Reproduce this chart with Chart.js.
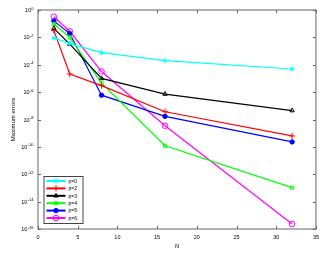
<!DOCTYPE html>
<html>
<head>
<meta charset="utf-8">
<script src="https://cdn.jsdelivr.net/npm/chart.js"></script>
<style>
  html, body { margin: 0; padding: 0; background: #fff; }
  #wrap { width: 324px; height: 255px; }
</style>
</head>
<body>
<div id="wrap"><canvas id="errChart" width="324" height="255"></canvas></div>
<script>
// grid sizes
const N = [2, 4, 8, 16, 32];

// maximum errors per polynomial degree p
const errP0 = [9.1e-3, 3.5e-3, 7.6e-4, 2.0e-4, 4.9e-5];
const errP2 = [3.1e-2, 2.1e-5, 3.0e-6, 3.7e-8, 6.3e-10];
const errP3 = [4.6e-2, 3.2e-3, 1.0e-5, 7.2e-7, 4.5e-8];
const errP4 = [9.5e-2, 1.0e-2, 4.5e-6, 1.2e-10, 1.05e-13];
const errP5 = [1.6e-1, 1.9e-2, 6.0e-7, 1.7e-8, 2.3e-10];
const errP6 = [3.2e-1, 2.8e-2, 3.2e-5, 3.5e-9, 2.3e-16];

const seriesNames = ['p=0', 'p=2', 'p=3', 'p=4', 'p=5', 'p=6'];
const xTicks = [0, 5, 10, 15, 20, 25, 30, 35];
const yTickExps = [0, -2, -4, -6, -8, -10, -12, -14, -16];

const styles = [
  { color: '#00ffff', point: 'star', radius: 2.5, fill: false },
  { color: '#ff0000', point: 'cross', radius: 3, fill: false },
  { color: '#000000', point: 'triangle', radius: 2.5, fill: false },
  { color: '#00ff00', point: 'rect', radius: 2.2, fill: false },
  { color: '#0000ff', point: 'circle', radius: 2.2, fill: true },
  { color: '#ff00ff', point: 'circle', radius: 2.8, fill: false }
];

const allErr = [errP0, errP2, errP3, errP4, errP5, errP6];

const datasets = allErr.map((vals, i) => ({
  label: seriesNames[i],
  data: N.map((n, j) => ({ x: n, y: vals[j] })),
  borderColor: styles[i].color,
  backgroundColor: styles[i].fill ? styles[i].color : 'rgba(0,0,0,0)',
  borderWidth: 1.2,
  pointStyle: styles[i].point,
  pointRadius: styles[i].radius,
  pointBorderWidth: 1,
  pointBorderColor: styles[i].color,
  pointBackgroundColor: styles[i].fill ? styles[i].color : 'rgba(0,0,0,0)',
  tension: 0
}));

const FONT = '"Liberation Sans", Arial, sans-serif';

// box round the axes with inward ticks, matlab style, plus 10^n labels
const boxPlugin = {
  id: 'boxTicks',
  afterDraw(chart) {
    const { ctx, chartArea: a, scales } = chart;
    ctx.save();
    ctx.strokeStyle = '#666';
    ctx.lineWidth = 1;
    ctx.strokeRect(a.left, a.top, a.right - a.left, a.bottom - a.top);
    ctx.beginPath();
    xTicks.forEach(v => {
      const px = Math.round(scales.x.getPixelForValue(v)) + 0.5;
      ctx.moveTo(px, a.bottom); ctx.lineTo(px, a.bottom - 3);
      ctx.moveTo(px, a.top); ctx.lineTo(px, a.top + 3);
    });
    yTickExps.forEach(e => {
      const py = Math.round(scales.y.getPixelForValue(Math.pow(10, e))) + 0.5;
      ctx.moveTo(a.left, py); ctx.lineTo(a.left + 3, py);
      ctx.moveTo(a.right, py); ctx.lineTo(a.right - 3, py);
    });
    ctx.stroke();

    // y tick labels with a raised exponent
    ctx.fillStyle = '#000';
    ctx.textBaseline = 'alphabetic';
    yTickExps.forEach(e => {
      const py = scales.y.getPixelForValue(Math.pow(10, e));
      const right = a.left - 4.5;
      ctx.font = '4px ' + FONT;
      const expTxt = e === 0 ? '0' : '-' + Math.abs(e);
      const ew = ctx.measureText(expTxt).width;
      ctx.textAlign = 'right';
      ctx.fillText(expTxt, right, py - 0.5);
      ctx.font = '5.5px ' + FONT;
      ctx.fillText('10', right - ew - 0.3, py + 2);
    });
    ctx.restore();
  }
};

// legend drawn inside the lower left corner
const innerLegend = {
  id: 'innerLegend',
  afterDraw(chart) {
    const { ctx, chartArea: a } = chart;
    const x0 = a.left + 5.5, y0 = a.bottom - 53;
    const w = 39, h = 47, row = 7.4;
    ctx.save();
    ctx.fillStyle = '#fff';
    ctx.fillRect(x0, y0, w, h);
    ctx.strokeStyle = '#444';
    ctx.lineWidth = 1;
    ctx.strokeRect(x0 + 0.5, y0 + 0.5, w, h);
    chart.data.datasets.forEach((ds, i) => {
      const y = y0 + 5 + i * row;
      ctx.strokeStyle = ds.borderColor;
      ctx.lineWidth = 2;
      ctx.beginPath();
      ctx.moveTo(x0 + 3, y); ctx.lineTo(x0 + 22, y);
      ctx.stroke();
      ctx.fillStyle = ds.pointBackgroundColor;
      ctx.lineWidth = 1;
      Chart.helpers.drawPoint(ctx, { pointStyle: ds.pointStyle, radius: ds.pointRadius, borderWidth: 1, rotation: 0 }, x0 + 12.5, y);
      ctx.fillStyle = '#000';
      ctx.font = '5px ' + FONT;
      ctx.textBaseline = 'middle';
      ctx.fillText(ds.label, x0 + 25, y + 0.5);
    });
    ctx.restore();
  }
};

new Chart(document.getElementById('errChart').getContext('2d'), {
  type: 'line',
  data: { datasets },
  options: {
    responsive: false,
    animation: false,
    layout: { padding: { left: 10, right: 8, top: 10, bottom: 0 } },
    plugins: { legend: { display: false }, tooltip: { enabled: false } },
    scales: {
      x: {
        type: 'linear',
        min: 0, max: 35,
        afterBuildTicks: s => { s.ticks = xTicks.map(v => ({ value: v })); },
        afterFit: s => { s.height = 26; },
        grid: { display: false, drawTicks: false },
        border: { display: false },
        ticks: { color: '#000', padding: 5, font: { size: 5.5, family: 'Liberation Sans' } },
        title: { display: true, text: 'N', color: '#000', padding: { top: 1, bottom: 5 }, font: { size: 6, style: 'italic', family: 'Liberation Sans' } }
      },
      y: {
        type: 'logarithmic',
        min: 1e-16, max: 1,
        afterBuildTicks: s => { s.ticks = yTickExps.map(e => ({ value: Math.pow(10, e) })); },
        afterFit: s => { s.width = 28; },
        grid: { display: false, drawTicks: false },
        border: { display: false },
        ticks: { display: false },
        title: { display: true, text: 'Maximum errors', color: '#000', padding: { top: 0, bottom: 0 }, font: { size: 6, family: 'Liberation Sans' } }
      }
    }
  },
  plugins: [boxPlugin, innerLegend]
});
</script>
</body>
</html>
